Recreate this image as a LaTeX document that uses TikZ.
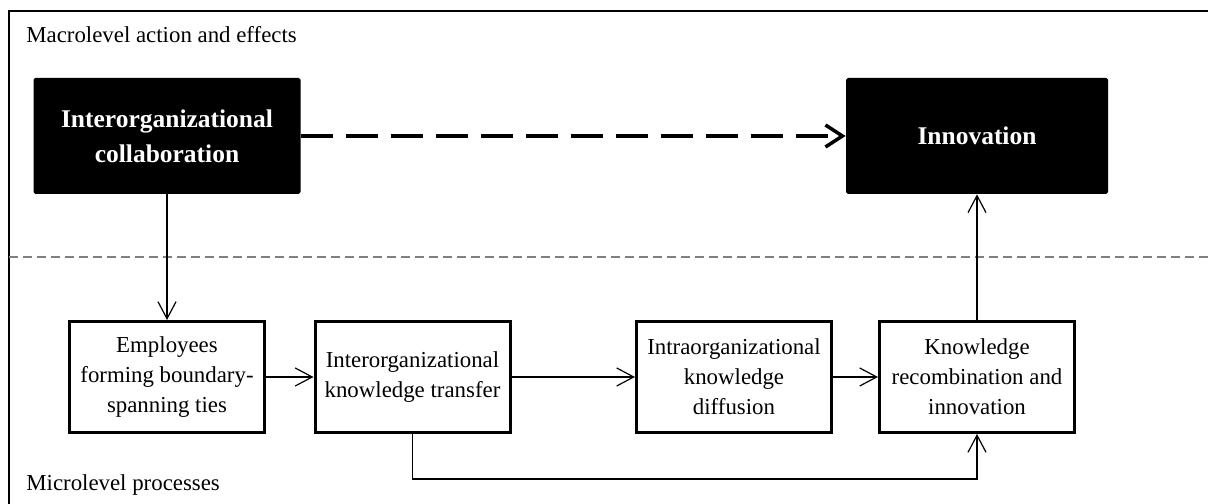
\documentclass[tikz,border=0pt]{standalone}
\usepackage{fontspec}
\setmainfont{Liberation Serif}
\usetikzlibrary{arrows.meta}

\begin{document}
\begin{tikzpicture}[
        >={Straight Barb[length=0.34cm,width=0.36cm]},
        macrobox/.style={fill=black,text=white,rounded corners=1pt,minimum width=5.34cm,minimum height=2.32cm,align=center,font=\fontsize{14.5}{20}\selectfont\bfseries},
        procbox/.style={draw,line width=0.06cm,minimum width=3.9cm,minimum height=2.22cm,align=center,inner sep=0pt,font=\fontsize{13}{17}\selectfont},
        levellabel/.style={anchor=base west,inner sep=0pt,font=\fontsize{13}{17}\selectfont},
        link/.style={->,line width=0.024cm}]
        \useasboundingbox (0,0) rectangle (24.16,10.08);
        \clip (0,0) rectangle (24.16,10.08);
        % frame and level split
        \draw[line width=0.05cm] (0.18,-1) rectangle (25,9.86);
        \draw[gray,line width=0.03cm,dash pattern=on 0.18cm off 0.1cm] (0.18,4.94) -- (24.16,4.94);
        \node[levellabel] (macro) at (0.52,9.22) {Macrolevel action and effects};
        \node[levellabel] (micro) at (0.52,0.26) {Microlevel processes};
        % macrolevel
        \node[macrobox] (collab) at (3.34,7.36) {Interorganizational\\collaboration};
        \node[macrobox,minimum width=5.24cm] (innov) at (19.54,7.36) {Innovation};
        % microlevel
        \node[procbox] (ties) at (3.34,2.54) {Employees\\forming boundary-\\spanning ties};
        \node[procbox] (transfer) at (8.25,2.54) {Interorganizational\\knowledge transfer};
        \node[procbox] (diffusion) at (14.68,2.54) {Intraorganizational\\knowledge\\diffusion};
        \node[procbox] (recomb) at (19.54,2.54) {Knowledge\\recombination and\\innovation};
        \coordinate (low) at (0,0.5);
        \draw[->,line width=0.07cm,dash pattern=on 0.64cm off 0.26cm,>={Straight Barb[length=0.34cm,width=0.44cm]}] (collab) -- (innov);
        \draw[link] (collab) -- (ties);
        \draw[link] (ties) -- (transfer);
        \draw[link] (transfer) -- (diffusion);
        \draw[link] (diffusion) -- (recomb);
        \draw[link] (recomb) -- (innov);
        \draw[link] (transfer.south) -- (transfer.south |- low) -| (recomb.south);
    \end{tikzpicture}
\end{document}
